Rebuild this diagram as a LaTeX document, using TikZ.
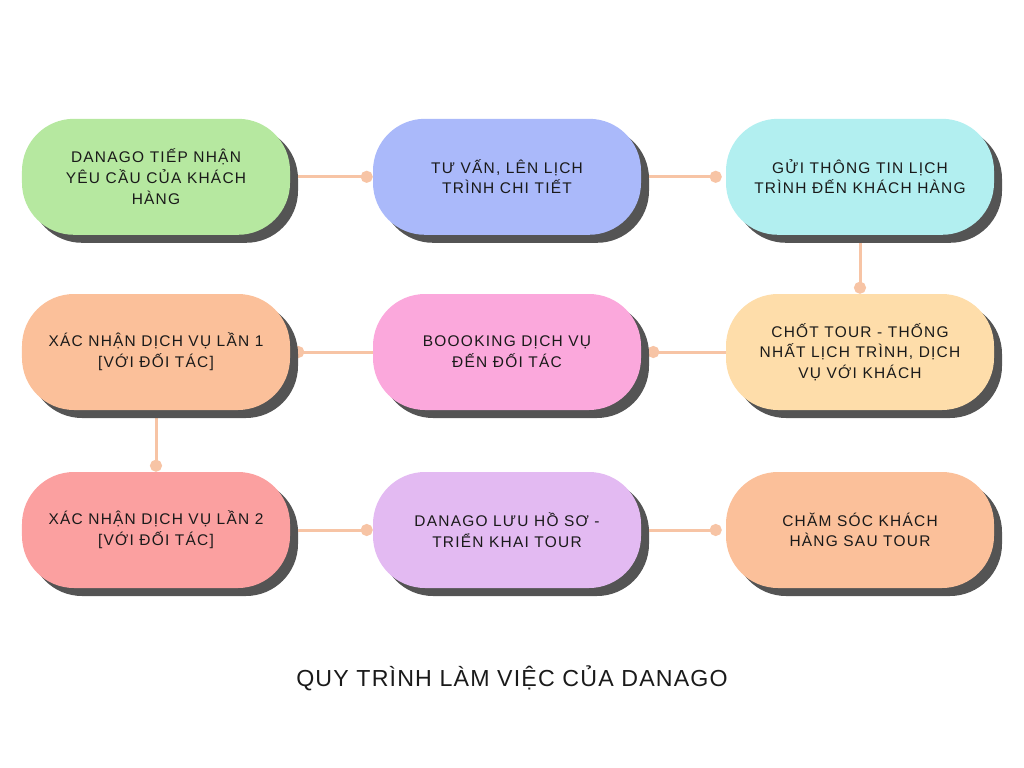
\documentclass[tikz,border=0pt]{standalone}
\usepackage{fontspec}
\setmainfont{Liberation Sans}
\newfontfamily\boxfont{Liberation Sans}[LetterSpace=8]
\newfontfamily\titlefont{Liberation Sans}[LetterSpace=5]
\usetikzlibrary{arrows.meta}
\usetikzlibrary{shadows}
\usetikzlibrary{backgrounds}
\definecolor{stepgreen}{RGB}{182,232,160}
\definecolor{stepblue}{RGB}{170,185,250}
\definecolor{stepcyan}{RGB}{178,239,240}
\definecolor{steppeach}{RGB}{251,192,154}
\definecolor{steppink}{RGB}{251,168,220}
\definecolor{steporange}{RGB}{254,221,170}
\definecolor{steprose}{RGB}{251,160,160}
\definecolor{steplilac}{RGB}{227,186,242}
\definecolor{linkpeach}{RGB}{247,196,165}
\definecolor{shadowgray}{RGB}{84,84,84}
\definecolor{textblack}{RGB}{26,26,26}
\tikzstyle{stepbox}=[rounded corners=1.3cm,minimum width=6.7cm,minimum height=2.9cm,
  align=center,text=textblack,font=\boxfont\fontsize{11}{14.7}\selectfont,
  drop shadow={shadow xshift=0.2cm,shadow yshift=-0.2cm,fill=shadowgray,opacity=1}]
\tikzstyle{linkline}=[draw=linkpeach,line width=0.075cm,-{Circle[length=0.3cm]}]

\begin{document}
\begin{tikzpicture}
  \useasboundingbox (0,0) rectangle (25.6,-19.2);

  \node[stepbox,fill=stepgreen] (danago) at (3.9,-4.42)
    {DANAGO TIẾP NHẬN\\YÊU CẦU CỦA KHÁCH\\HÀNG};
  \node[stepbox,fill=stepblue] (tuvan) at (12.675,-4.42)
    {TƯ VẤN, LÊN LỊCH\\TRÌNH CHI TIẾT};
  \node[stepbox,fill=stepcyan] (guitin) at (21.5,-4.42)
    {GỬI THÔNG TIN LỊCH\\TRÌNH ĐẾN KHÁCH HÀNG};

  \node[stepbox,fill=steppeach] (xacnhanmot) at (3.9,-8.8)
    {XÁC NHẬN DỊCH VỤ LẦN 1\\{[VỚI ĐỐI TÁC]}};
  \node[stepbox,fill=steppink] (booking) at (12.675,-8.8)
    {BOOOKING DỊCH VỤ\\ĐẾN ĐỐI TÁC};
  \node[stepbox,fill=steporange] (chottour) at (21.5,-8.8)
    {CHỐT TOUR - THỐNG\\NHẤT LỊCH TRÌNH, DỊCH\\VỤ VỚI KHÁCH};

  \node[stepbox,fill=steprose] (xacnhanhai) at (3.9,-13.25)
    {XÁC NHẬN DỊCH VỤ LẦN 2\\{[VỚI ĐỐI TÁC]}};
  \node[stepbox,fill=steplilac] (luuhoso) at (12.675,-13.25)
    {DANAGO LƯU HỒ SƠ -\\TRIỂN KHAI TOUR};
  \node[stepbox,fill=steppeach] (chamsoc) at (21.5,-13.25)
    {CHĂM SÓC KHÁCH\\HÀNG SAU TOUR};

  \node[text=textblack] (title) at (12.8,-16.95)
    {\titlefont\fontsize{16.5}{20}\selectfont QUY TRÌNH LÀM VIỆC CỦA DANAGO};

  % connectors sit behind the shadows
  \begin{scope}[on background layer]
    \draw[linkline] (danago.east) -- (tuvan.west);
    \draw[linkline,shorten >=0.1cm] (tuvan.east) -- (guitin.west);
    \draw[linkline] (guitin.south) -- (chottour.north);
    \draw[linkline,shorten >=0.15cm] (chottour.west) -- (booking.east);
    \draw[linkline,shorten >=0.05cm] (booking.west) -- (xacnhanmot.east);
    \draw[linkline] (xacnhanmot.south) -- (xacnhanhai.north);
    \draw[linkline] (xacnhanhai.east) -- (luuhoso.west);
    \draw[linkline,shorten >=0.1cm] (luuhoso.east) -- (chamsoc.west);
  \end{scope}
\end{tikzpicture}
\end{document}
